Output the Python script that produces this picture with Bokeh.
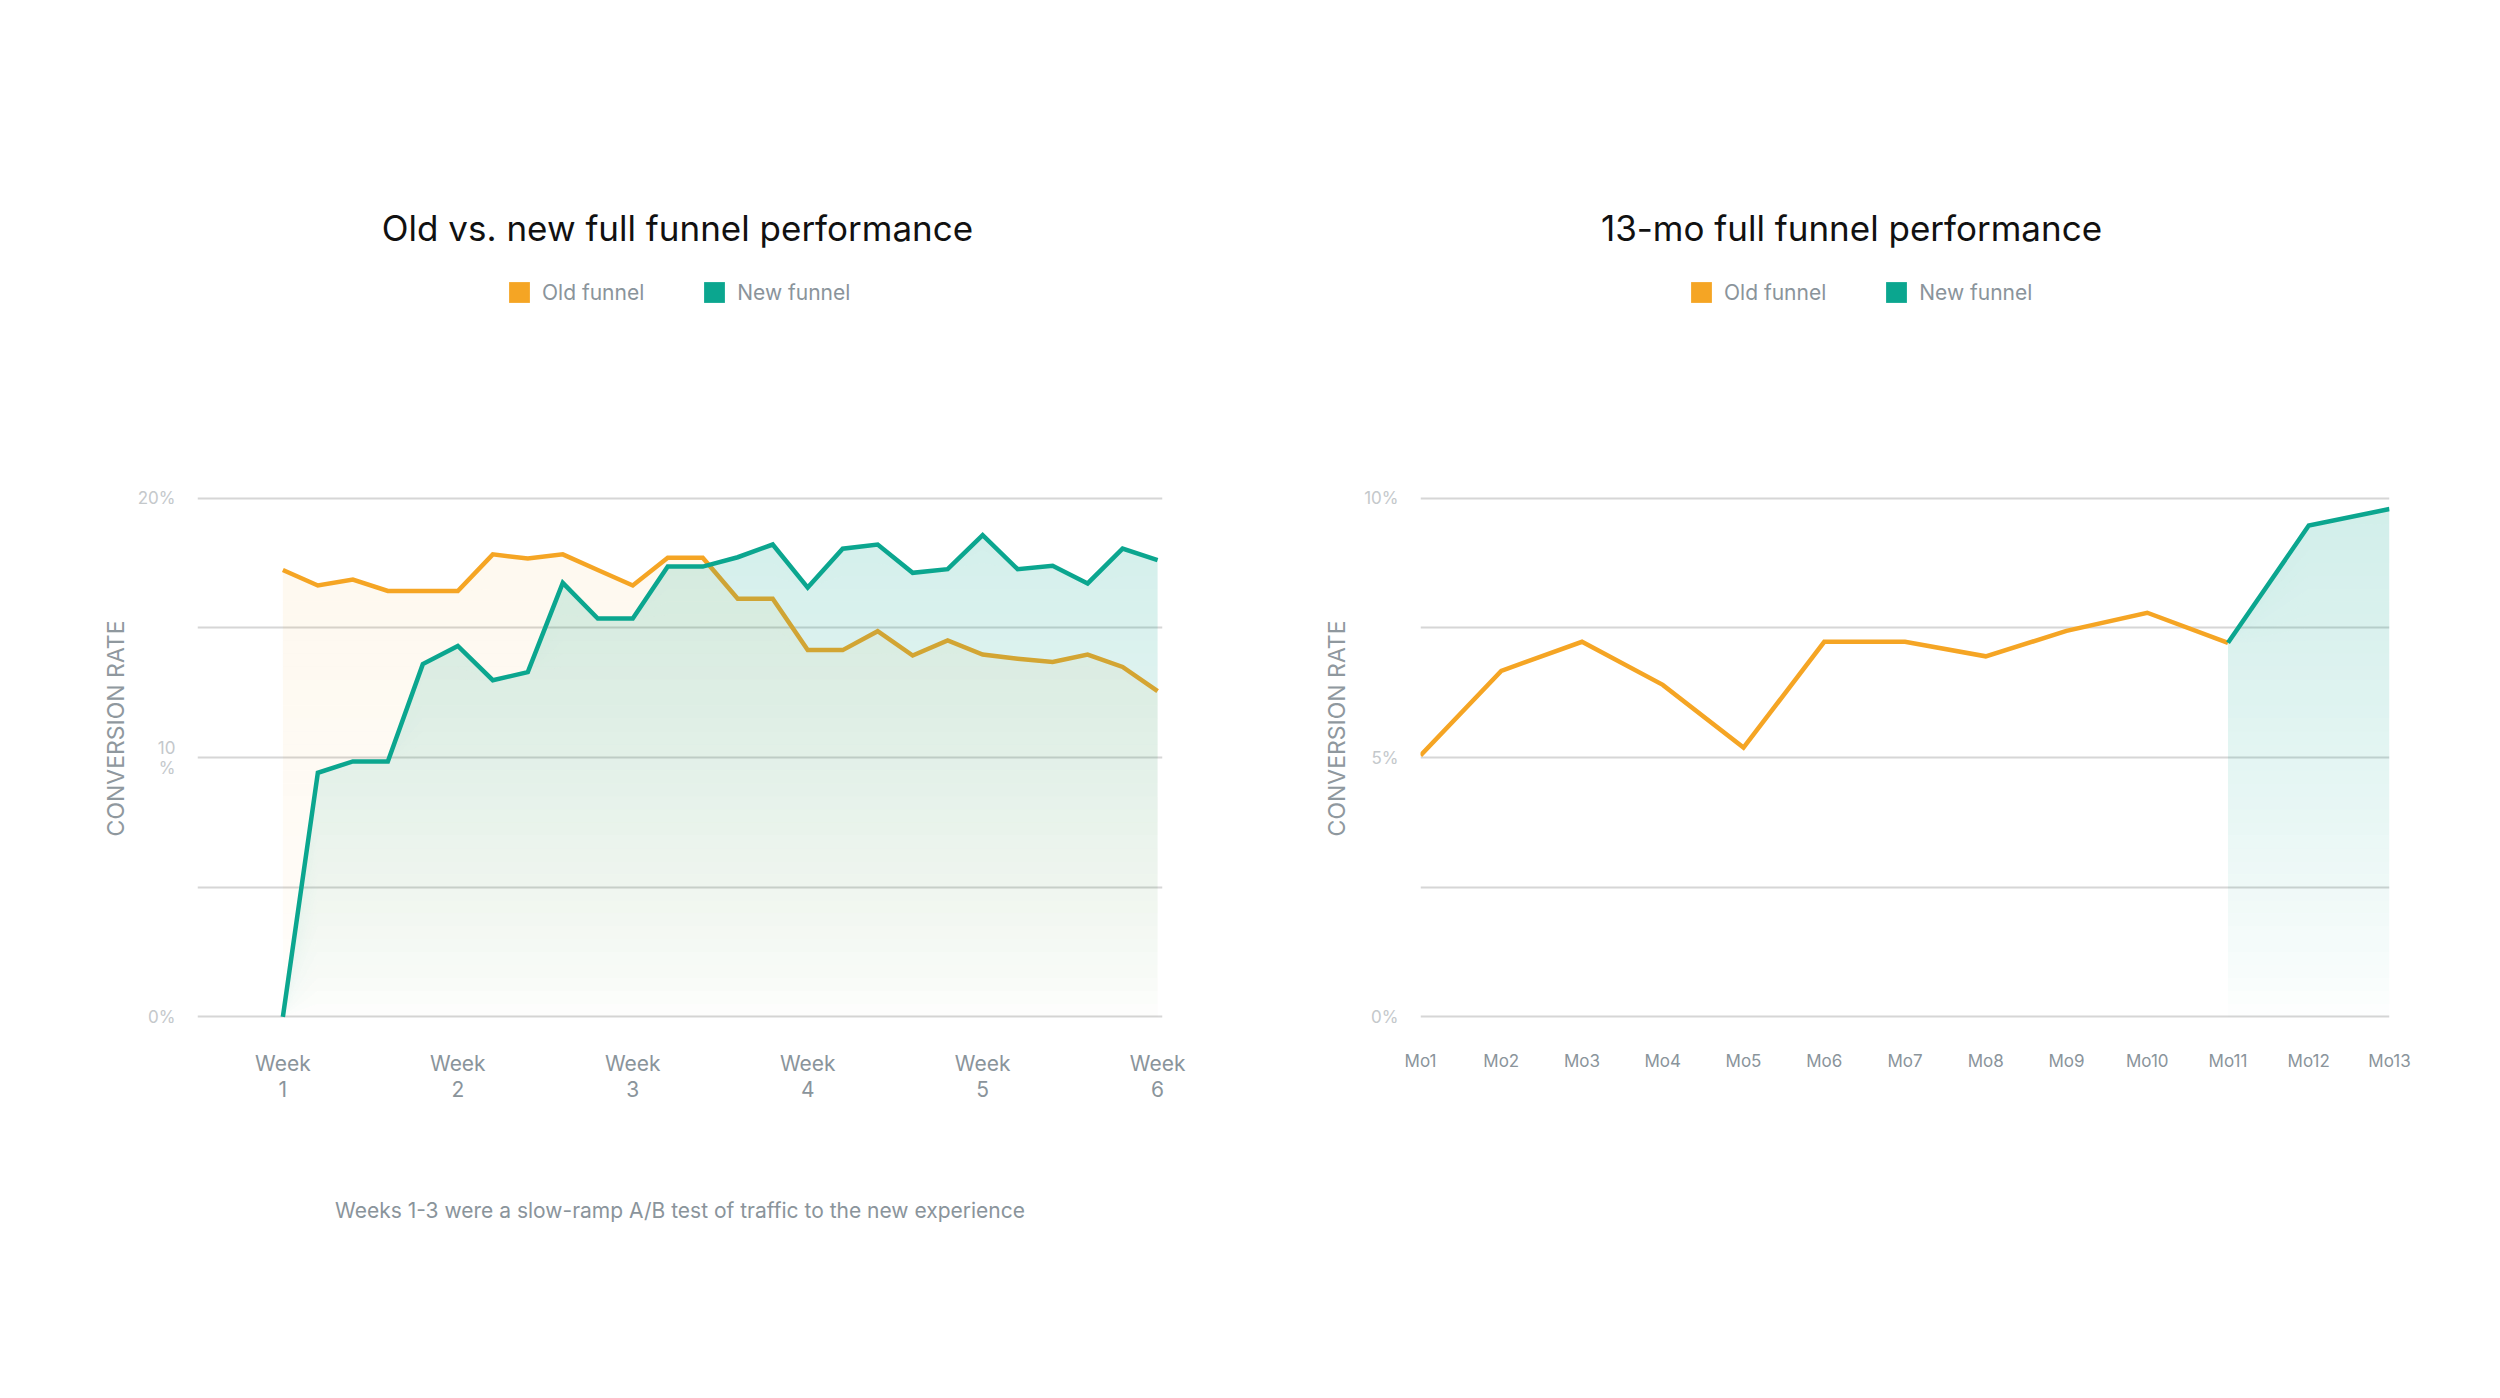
import numpy as np
from bokeh.embed import file_html
from bokeh.layouts import column, row
from bokeh.models import FixedTicker, Label, Legend, LegendItem, Range1d, Title
from bokeh.plotting import figure
from bokeh.resources import INLINE

# weekly view: 26 data points, Week 1 .. Week 6
week_x = list(range(26))
week_ticks = [0, 5, 10, 15, 20, 25]
week_labels = ["Week\n1", "Week\n2", "Week\n3", "Week\n4", "Week\n5", "Week\n6"]
old_weekly = [17.23, 16.63, 16.86, 16.42, 16.42, 16.42, 17.83, 17.67, 17.83, 17.23,
              16.63, 17.70, 17.70, 16.12, 16.12, 14.14, 14.14, 14.87, 13.93, 14.51,
              13.97, 13.81, 13.68, 13.97, 13.49, 12.56]
new_weekly = [0.0, 9.41, 9.85, 9.85, 13.60, 14.30, 12.98, 13.29, 16.73, 15.36,
              15.36, 17.36, 17.36, 17.72, 18.21, 16.55, 18.05, 18.21, 17.12, 17.26,
              18.57, 17.26, 17.39, 16.71, 18.05, 17.61]
week_y_ticks = [0, 5, 10, 15, 20]
week_y_labels = ["0%", "", "10\n%", "", "20%"]

# monthly view: Mo1 .. Mo13
month_x = list(range(13))
month_labels = ["Mo1", "Mo2", "Mo3", "Mo4", "Mo5", "Mo6", "Mo7", "Mo8", "Mo9",
                "Mo10", "Mo11", "Mo12", "Mo13"]
old_month_x = [0, 1, 2, 3, 4, 5, 6, 7, 8, 9, 10]
old_monthly = [5.04, 6.67, 7.23, 6.40, 5.19, 7.23, 7.23, 6.95, 7.44, 7.79, 7.21]
new_month_x = [10, 11, 12]
new_monthly = [7.21, 9.47, 9.79]
month_y_ticks = [0, 2.5, 5, 7.5, 10]
month_y_labels = ["0%", "", "5%", "", "10%"]

ORANGE = "#f5a524"
TEAL = "#0ba68f"
GRAY = "#8a949b"
LIGHT = "#c4c8cb"
FONT = "Inter"

HEAD_H = 475      # title + legend strip
TOP = 20
FRAME_H = 524
BOTTOM = 358


def gradient_area(p, x, y, color, top_alpha, y_max, steps=40, power=0.75):
    # horizontal bands, each drawn once, opacity rising with height
    y = np.asarray(y, dtype=float)
    edges = np.linspace(0, y_max, steps + 1)
    for lo, hi in zip(edges[:-1], edges[1:]):
        a = top_alpha * ((lo + hi) / 2 / y_max) ** power
        p.varea(x=x, y1=np.minimum(y, lo), y2=np.minimum(y, hi),
                fill_color=color, fill_alpha=a)


def make_header(width, title, title_x, legend_x, old, new):
    h = figure(width=width, height=HEAD_H, x_range=Range1d(0, 1), y_range=Range1d(0, 1),
               x_axis_type=None, y_axis_type=None, toolbar_location=None,
               output_backend="svg", min_border=0)
    h.outline_line_color = None
    # zero-size swatches built from the series, only used as legend glyphs
    old_sw = h.quad(left=old[0][:1], right=old[0][:1], top=old[1][:1], bottom=old[1][:1],
                    fill_color=ORANGE, line_color=None)
    new_sw = h.quad(left=new[0][:1], right=new[0][:1], top=new[1][:1], bottom=new[1][:1],
                    fill_color=TEAL, line_color=None)
    legend = Legend(items=[LegendItem(label="Old funnel", renderers=[old_sw]),
                           LegendItem(label="New funnel", renderers=[new_sw])],
                    orientation="horizontal", location=(legend_x, HEAD_H - 313 + 8),
                    glyph_width=26, glyph_height=26, label_height=20,
                    label_standoff=10, spacing=57, padding=0, margin=0,
                    border_line_color=None, background_fill_alpha=0,
                    label_text_font=FONT, label_text_font_size="21px",
                    label_text_color=GRAY)
    h.add_layout(legend, "center")
    h.add_layout(Label(x=title_x, y=HEAD_H - 235 + 8, x_units="screen", y_units="screen",
                       text=title, text_align="center", text_baseline="middle",
                       text_font=FONT, text_font_size="35px", text_color="#111111"))
    return h


def make_figure(width, left, right, x_range, y_max, y_ticks, y_labels,
                x_ticks, x_labels, x_font, label_standoff):
    p = figure(width=width, height=TOP + FRAME_H + BOTTOM, x_range=x_range,
               y_range=Range1d(-y_max * 0.005, y_max * 1.005),
               toolbar_location=None, output_backend="svg",
               min_border_left=left, min_border_right=right,
               min_border_top=TOP, min_border_bottom=BOTTOM)
    p.outline_line_color = None
    p.xgrid.grid_line_color = None
    p.ygrid.grid_line_color = "#d6d6d6"
    p.ygrid.grid_line_width = 2
    p.ygrid.ticker = FixedTicker(ticks=y_ticks)

    p.yaxis.ticker = FixedTicker(ticks=y_ticks)
    p.yaxis.major_label_overrides = dict(zip(y_ticks, y_labels))
    p.yaxis.major_label_text_font = FONT
    p.yaxis.major_label_text_font_size = "17px"
    p.yaxis.major_label_text_color = LIGHT
    p.yaxis.major_label_text_line_height = 1.0
    p.yaxis.major_label_standoff = 16
    # axis title sits a little above the middle of the frame
    p.add_layout(Title(text="CONVERSION RATE", align="right", vertical_align="middle",
                       offset=125, standoff=label_standoff, text_font=FONT,
                       text_font_size="23px", text_font_style="normal",
                       text_color="#8f989e"), "left")

    p.xaxis.ticker = FixedTicker(ticks=x_ticks)
    p.xaxis.major_label_overrides = dict(zip(x_ticks, x_labels))
    p.xaxis.major_label_text_font = FONT
    p.xaxis.major_label_text_font_size = x_font
    p.xaxis.major_label_text_color = GRAY
    p.xaxis.major_label_text_line_height = 1.05
    p.xaxis.major_label_standoff = 25

    for ax in (p.xaxis, p.yaxis):
        ax.axis_line_color = None
        ax.major_tick_line_color = None
        ax.minor_tick_line_color = None
    return p


head_left = make_header(1240, "Old vs. new full funnel performance", 677, 506,
                        (week_x, old_weekly), (week_x, new_weekly))
left = make_figure(1240, 197, 78, Range1d(-2.44, 25.14), 20, week_y_ticks, week_y_labels,
                   week_ticks, week_labels, "21px", 8)
gradient_area(left, week_x, old_weekly, ORANGE, 0.075, 20, power=0.5)
left.line(week_x, old_weekly, line_color=ORANGE, line_width=4.5, line_join="miter")
gradient_area(left, week_x, new_weekly, TEAL, 0.19, 20)
left.line(week_x, new_weekly, line_color=TEAL, line_width=4.5, line_join="miter")
left.add_layout(Title(text=" ", text_font_size="1px", standoff=89), "below")
left.add_layout(Title(text="Weeks 1-3 were a slow-ramp A/B test of traffic to the new experience",
                      align="center", vertical_align="middle", standoff=0,
                      text_font=FONT, text_font_size="21px", text_font_style="normal",
                      text_color=GRAY), "below")

head_right = make_header(1244, "13-mo full funnel performance", 611, 448,
                         (old_month_x, old_monthly), (new_month_x, new_monthly))
right = make_figure(1244, 180, 95, Range1d(0, 12), 10, month_y_ticks, month_y_labels,
                    month_x, month_labels, "17px", 20)
right.line(old_month_x, old_monthly, line_color=ORANGE, line_width=4.5, line_join="miter")
gradient_area(right, new_month_x, new_monthly, TEAL, 0.19, 10)
right.line(new_month_x, new_monthly, line_color=TEAL, line_width=4.5, line_join="miter")

page = column(row(head_left, head_right), row(left, right))
open("out.html", "w").write(file_html(page, INLINE))
